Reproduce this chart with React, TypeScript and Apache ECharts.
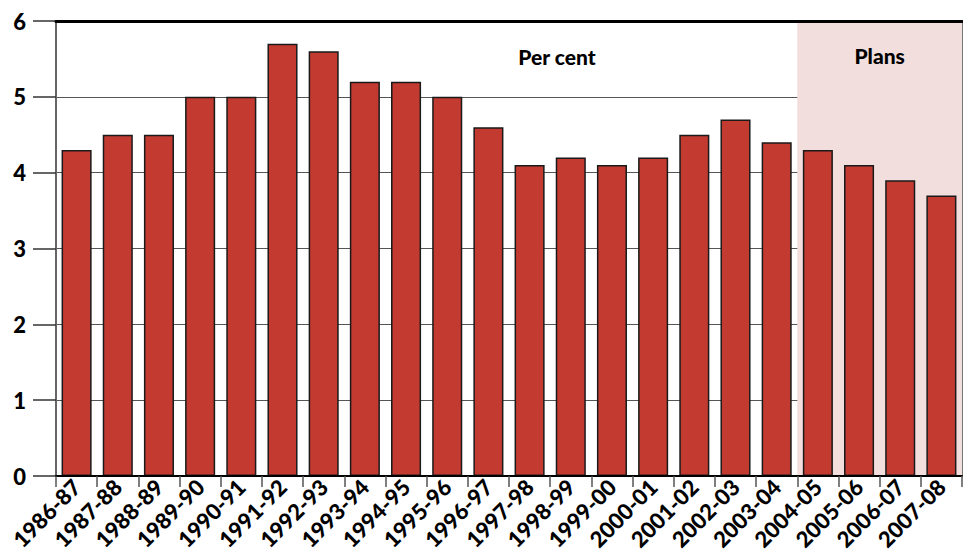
import React, { useEffect, useRef } from "react";
import * as echarts from "echarts";

const categories = [
  "1986-87", "1987-88", "1988-89", "1989-90", "1990-91", "1991-92", "1992-93",
  "1993-94", "1994-95", "1995-96", "1996-97", "1997-98", "1998-99", "1999-00",
  "2000-01", "2001-02", "2002-03", "2003-04", "2004-05", "2005-06", "2006-07", "2007-08",
];
const values = [
  4.3, 4.5, 4.5, 5.0, 5.0, 5.7, 5.6, 5.2, 5.2, 5.0, 4.6,
  4.1, 4.2, 4.1, 4.2, 4.5, 4.7, 4.4, 4.3, 4.1, 3.9, 3.7,
];
const plansStart = "2004-05";
const plansEnd = "2007-08";
const unitLabel = "Per cent";
const plansLabel = "Plans";

const FONT = "Lato";

export default function App() {
  const ref = useRef<HTMLDivElement>(null);
  useEffect(() => {
    const chart = echarts.init(ref.current!, undefined, { renderer: "svg" });
    chart.setOption({
      animation: false,
      backgroundColor: "#ffffff",
      grid: { left: 56, right: 1, top: 21, bottom: 78 },
      xAxis: [
        {
          type: "category",
          data: categories,
          boundaryGap: true,
          z: 10,
          axisLine: { lineStyle: { color: "#000", width: 2 } },
          axisTick: { show: true, length: 11, lineStyle: { color: "#555", width: 1.5 } },
          axisLabel: {
            rotate: 45,
            interval: 0,
            margin: 7,
            color: "#000",
            fontFamily: FONT,
            fontWeight: 900,
            fontSize: 22,
          },
        },
        {
          type: "category",
          data: categories,
          position: "top",
          z: 10,
          axisLine: { show: true, onZero: false, lineStyle: { color: "#000", width: 3 } },
          axisTick: { show: false },
          axisLabel: { show: false },
        },
      ],
      yAxis: [
        {
          type: "value",
          min: 0,
          max: 6,
          interval: 1,
          axisLine: { show: true, lineStyle: { color: "#666", width: 2 } },
          axisTick: { show: true, length: 23, lineStyle: { color: "#333", width: 1.5 } },
          axisLabel: {
            margin: 30,
            color: "#000",
            fontFamily: FONT,
            fontWeight: 900,
            fontSize: 22,
          },
          splitLine: { show: true, lineStyle: { color: "#555", width: 1.2 } },
        },
        {
          type: "value",
          min: 0,
          max: 6,
          interval: 1,
          position: "right",
          axisLine: { show: true, onZero: false, lineStyle: { color: "#777", width: 2 } },
          axisTick: { show: false },
          axisLabel: { show: false },
          splitLine: { show: false },
        },
      ],
      series: [
        {
          type: "bar",
          data: values,
          barCategoryGap: "27%",
          itemStyle: { color: "#c23a30", borderColor: "#1a1a1a", borderWidth: 1.5 },
          markArea: {
            silent: true,
            itemStyle: { color: "#f2dfdd" },
            label: {
              show: true,
              position: "insideTop",
              distance: 24,
              color: "#000",
              fontFamily: FONT,
              fontWeight: 900,
              fontSize: 21,
            },
            data: [
              [
                { name: plansLabel, xAxis: plansStart, yAxis: 6 },
                { xAxis: plansEnd, yAxis: 0 },
              ],
            ],
          },
          z: 2,
        },
      ],
      graphic: [
        {
          type: "text",
          x: 557,
          y: 56,
          style: {
            text: unitLabel,
            fill: "#000",
            font: `900 21px ${FONT}`,
            textAlign: "center",
            textVerticalAlign: "middle",
          },
        },
      ],
    });
    return () => chart.dispose();
  }, []);
  return <div ref={ref} style={{ width: 963, height: 554, position: "absolute", left: 0, top: 0 }} />;
}
